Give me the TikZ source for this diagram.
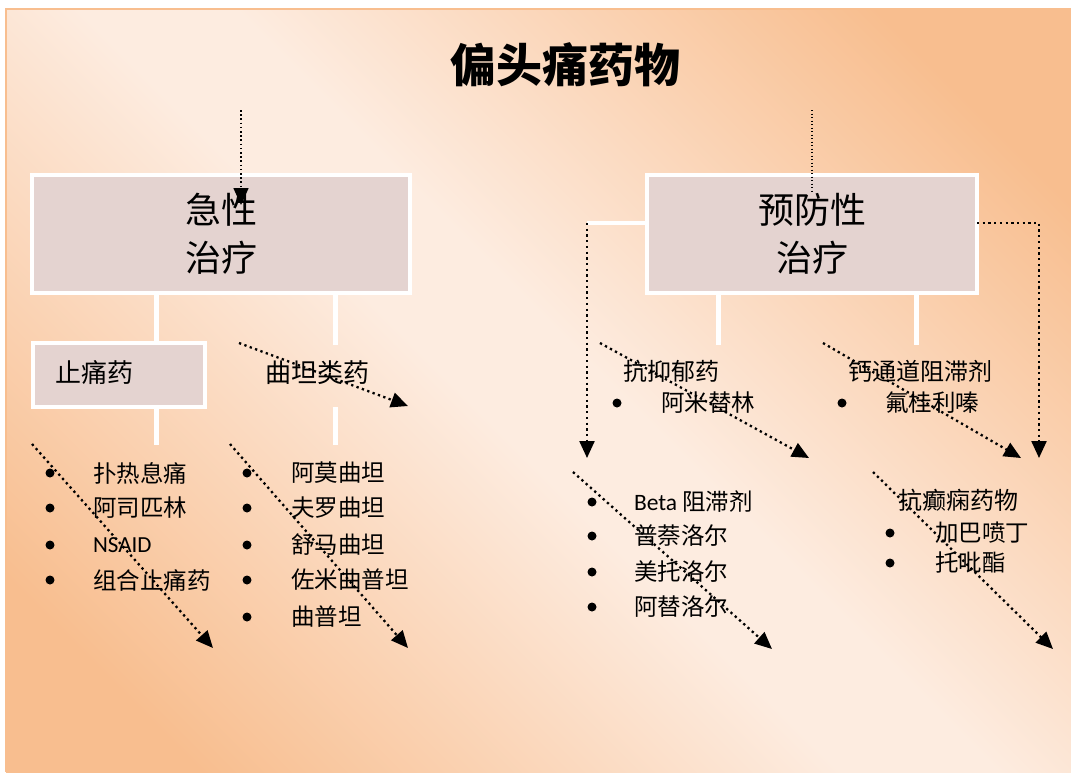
\documentclass[tikz,border=0pt]{standalone}
\usepackage{fontspec}
\setmainfont{Noto Sans CJK SC}
\newfontfamily\latinfont{Carlito}
\usetikzlibrary{arrows.meta}
\definecolor{peach}{RGB}{248,190,143}
\definecolor{cream}{RGB}{253,236,224}
\definecolor{boxfill}{RGB}{228,211,208}
\pgfdeclarehorizontalshading{slidebg}{100bp}{color(0bp)=(peach); color(22bp)=(peach); color(47bp)=(cream); color(53bp)=(cream); color(78bp)=(peach); color(100bp)=(peach)}
\tikzstyle{every node}=[inner sep=0pt, outer sep=0pt]
\tikzstyle{mainbox}=[draw=white, line width=4pt, fill=boxfill, align=center, font=\fontsize{36}{48}\selectfont]
\tikzstyle{stem}=[white, line width=5pt]
\tikzstyle{flow}=[line width=2.3pt, dash pattern=on 2.3pt off 3.4pt, -{Triangle[length=17pt, width=15pt]}]
\tikzstyle{head}=[anchor=west, font=\fontsize{24}{28}\selectfont]
\tikzstyle{item}=[anchor=west, font=\fontsize{23.5}{28}\selectfont]
\tikzstyle{dot}=[circle, fill=black, minimum size=9pt]

\begin{document}
\begin{tikzpicture}[x=1pt, y=-1pt]
\useasboundingbox (0,0) rectangle (1071,772);
% Background
    \fill[white] (0,0) rectangle (1071,772);
    \shade[shading=slidebg, shading angle=45] (6,9) rectangle (1071,772);
    \draw[peach, line width=1.5pt] (6,772) -- (6,9) -- (1071,9);
% Title
    \node[font=\fontsize{46}{50}\selectfont\bfseries] (title) at (565,65) {偏头痛药物};
% Stem points
    \coordinate (s1) at (156,0);
    \coordinate (s2) at (335,0);
    \coordinate (s3) at (718,0);
    \coordinate (s4) at (916,0);
    \coordinate (stemend) at (0,445);
    \coordinate (stemmid) at (0,345);
    \coordinate (elbowL) at (587,223);
    \coordinate (elbowR) at (1039,223);
    \coordinate (endL) at (587,458);
    \coordinate (endR) at (1039,458);
% Boxes
    \node[mainbox, minimum width=378, minimum height=118] (acute) at (221,234) {急性\\治疗};
    \node[mainbox, minimum width=330, minimum height=118] (prevent) at (812,234) {预防性\\治疗};
    \node[draw=white, line width=4pt, fill=boxfill, minimum width=172, minimum height=64] (painbox) at (119,375) {};
% Stems
    \draw[stem] (acute.south -| s1) -- (painbox.north -| s1);
    \draw[stem] (painbox.south -| s1) -- (stemend -| s1);
    \draw[stem] (acute.south -| s2) -- (stemmid -| s2);
    \draw[stem] (painbox.south -| s2) -- (stemend -| s2);
    \draw[stem] (prevent.south -| s3) -- (stemmid -| s3);
    \draw[stem] (prevent.south -| s4) -- (stemmid -| s4);
    \draw[white, line width=4pt] (prevent.west |- elbowL) -- (elbowL);
% Group headings
    \node[head, font=\fontsize{26}{28}\selectfont] (pain) at (55,373) {止痛药};
    \node[head, font=\fontsize{26}{28}\selectfont] (triptan) at (265,373) {曲坦类药};
    \node[head] (antidep) at (623,371) {抗抑郁药};
    \node[head] (calcium) at (848,371) {钙通道阻滞剂};
    \node[head] (antiepi) at (898,500) {抗癫痫药物};
% Analgesics
    \node[dot] (d11) at (50,473) {};
    \node[dot] (d12) at (50,508) {};
    \node[dot] (d13) at (50,545) {};
    \node[dot] (d14) at (50,580) {};
    \node[item] (paracet) at (93,473) {扑热息痛};
    \node[item] (aspirin) at (93,508) {阿司匹林};
    \node[item, font=\fontsize{23}{28}\latinfont] (nsaid) at (93,545) {NSAID};
    \node[item] (combo) at (93,580) {组合止痛药};
% Triptans
    \node[dot] (d21) at (247,473) {};
    \node[dot] (d22) at (247,508) {};
    \node[dot] (d23) at (247,545) {};
    \node[dot] (d24) at (247,580) {};
    \node[dot] (d25) at (247,617) {};
    \node[item] (almo) at (291,473) {阿莫曲坦};
    \node[item] (frova) at (291,508) {夫罗曲坦};
    \node[item] (suma) at (291,545) {舒马曲坦};
    \node[item] (zolmi) at (291,580) {佐米曲普坦};
    \node[item] (tripl) at (291,617) {曲普坦};
% Preventive groups
    \node[dot] (d31) at (617,403) {};
    \node[item] (amitr) at (661,403) {阿米替林};
    \node[dot] (d41) at (842,403) {};
    \node[item] (fluna) at (885,403) {氟桂利嗪};
    \node[dot] (d51) at (592,502) {};
    \node[dot] (d52) at (592,536) {};
    \node[dot] (d53) at (592,572) {};
    \node[dot] (d54) at (592,607) {};
    \node[item] (beta) at (634,502) {{\latinfont Beta} 阻滞剂};
    \node[item] (propr) at (634,536) {普萘洛尔};
    \node[item] (metop) at (634,572) {美托洛尔};
    \node[item] (ateno) at (634,607) {阿替洛尔};
    \node[dot] (d61) at (890,533) {};
    \node[dot] (d62) at (890,563) {};
    \node[item] (gaba) at (935,533) {加巴喷丁};
    \node[item] (topi) at (935,563) {托吡酯};
% Dotted paths
    \coordinate (topL) at (241,110);
    \coordinate (topR) at (812,110);
    \draw[flow, line width=1.6pt, dash pattern=on 1.6pt off 2.6pt] (topL) -- (acute.north -| topL) -- ++(0,30);
    \draw[line width=1.3pt, dash pattern=on 1.3pt off 2.2pt] (topR) -- (prevent.north -| topR) -- ++(0,18);
    \draw[flow] (elbowL) -- (endL);
    \draw[flow] (prevent.east |- elbowR) -- (elbowR) -- (endR);
% Diagonal arrows
    \coordinate (a1) at (239,343);  \coordinate (b1) at (408,406);
    \coordinate (a2) at (32,444);   \coordinate (b2) at (213,648);
    \coordinate (a3) at (230,444);  \coordinate (b3) at (408,648);
    \coordinate (a4) at (600,343);  \coordinate (b4) at (809,458);
    \coordinate (a5) at (823,343);  \coordinate (b5) at (1021,458);
    \coordinate (a6) at (573,472);  \coordinate (b6) at (772,649);
    \coordinate (a7) at (873,472);  \coordinate (b7) at (1053,649);
    \draw[flow] (a1) -- (b1);
    \draw[flow] (a2) -- (b2);
    \draw[flow] (a3) -- (b3);
    \draw[flow] (a4) -- (b4);
    \draw[flow] (a5) -- (b5);
    \draw[flow] (a6) -- (b6);
    \draw[flow] (a7) -- (b7);
\end{tikzpicture}
\end{document}
